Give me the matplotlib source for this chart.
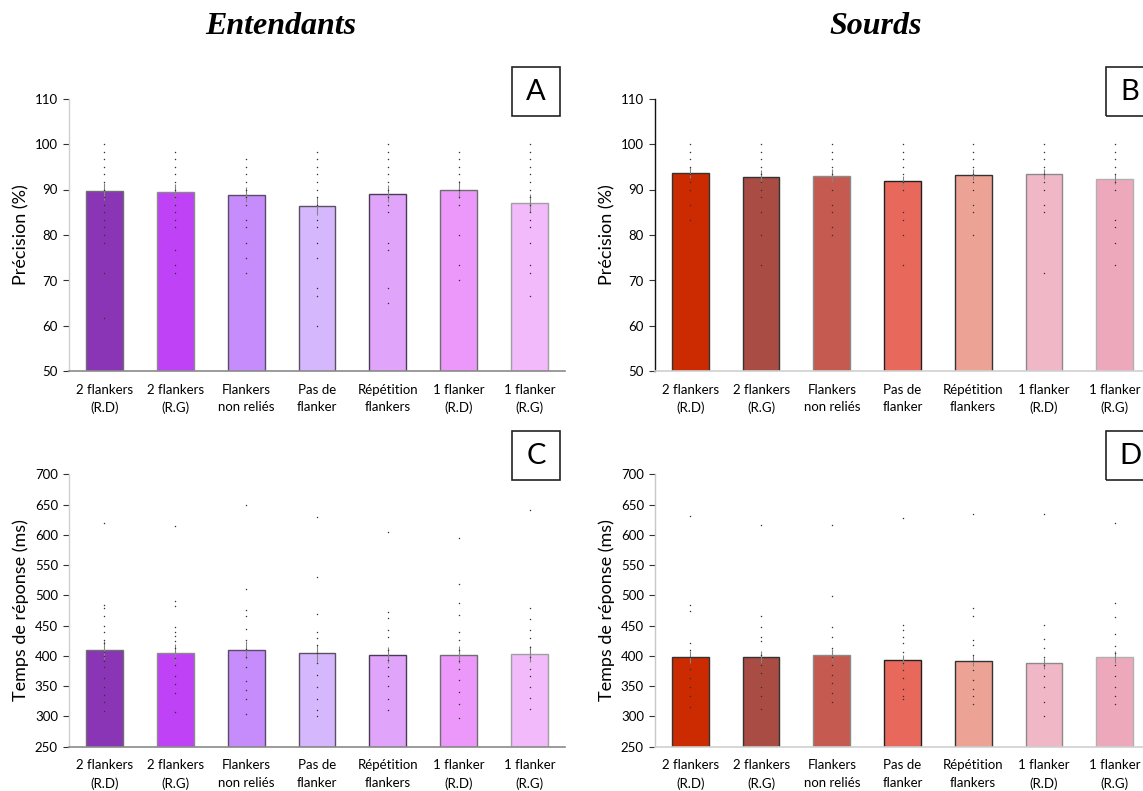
import matplotlib
matplotlib.use("Agg")
import matplotlib.pyplot as plt
from matplotlib.patches import Rectangle

plt.rcParams['font.family'] = ['Lato', 'DejaVu Sans']

W, H = 1143, 791

conditions = ["2 flankers\n(R.D)", "2 flankers\n(R.G)", "Flankers\nnon reliés",
              "Pas de\nflanker", "Répétition\nflankers", "1 flanker\n(R.D)", "1 flanker\n(R.G)"]

# couleurs des conditions
violets = ['#8a35b5', '#bf42f6', '#c78cfb', '#d5b7fd', '#e0a4fa', '#eb98fa', '#f2b9fb']
rouges = ['#cc2a00', '#a94c44', '#c55a50', '#e8695b', '#eca395', '#f0b7c7', '#eda9bb']

# Précision (%) - entendants
prec_ent = [89.6, 89.4, 88.9, 86.3, 89.1, 90.0, 87.0]
prec_ent_se = [1.9, 1.7, 1.7, 2.0, 1.8, 1.8, 2.0]
prec_ent_pts = [
    [100, 98.3, 96.7, 95, 93.3, 91.7, 90, 88.3, 86.7, 85, 83.3, 81.7, 80, 78.3, 71.7, 61.7],
    [98.3, 96.7, 95, 93.3, 91.7, 90, 88.3, 86.7, 85, 83.3, 81.7, 76.7, 73.3, 71.7],
    [96.7, 95, 93.3, 91.7, 90, 88.3, 86.7, 83.3, 81.7, 78.3, 75, 71.7],
    [98.3, 96.7, 95, 93.3, 91.7, 90, 88.3, 86.7, 83.3, 81.7, 78.3, 75, 68.3, 66.7, 60],
    [100, 98.3, 96.7, 95, 93.3, 91.7, 90, 88.3, 86.7, 85, 78.3, 76.7, 68.3, 65],
    [98.3, 96.7, 95, 93.3, 91.7, 90, 88.3, 86.7, 80, 73.3, 70],
    [100, 98.3, 96.7, 95, 93.3, 91.7, 90, 88.3, 86.7, 85, 83.3, 81.7, 78.3, 73.3, 71.7, 66.7],
]

# Précision (%) - sourds
prec_sou = [93.7, 92.8, 93.0, 91.9, 93.2, 93.5, 92.3]
prec_sou_se = [1.2, 1.4, 1.4, 1.1, 1.2, 1.1, 1.2]
prec_sou_pts = [
    [100, 98.3, 96.7, 95, 93.3, 91.7, 90, 86.7, 83.3],
    [100, 98.3, 96.7, 95, 93.3, 91.7, 90, 88.3, 85, 80, 73.3],
    [100, 98.3, 96.7, 95, 93.3, 90, 86.7, 85, 81.7, 80],
    [100, 98.3, 96.7, 95, 93.3, 91.7, 90, 85, 83.3, 80, 73.3],
    [100, 98.3, 96.7, 95, 93.3, 91.7, 90, 86.7, 85, 80],
    [100, 98.3, 96.7, 95, 93.3, 91.7, 90, 86.7, 85, 71.7],
    [100, 98.3, 96.7, 95, 93.3, 91.7, 90, 83.3, 81.7, 78.3, 73.3],
]

# Temps de réponse (ms) - entendants
tr_ent = [410, 405, 410, 404, 402, 402, 403]
tr_ent_se = [15, 14, 15, 14, 13, 14, 13]
tr_ent_pts = [
    [620, 484, 479, 466, 450, 440, 426, 421, 407, 400, 392, 382, 364, 349, 335, 324, 309],
    [614, 491, 483, 448, 440, 433, 424, 413, 397, 385, 366, 353, 338, 307],
    [649, 510, 476, 466, 445, 426, 412, 399, 381, 359, 344, 328, 304],
    [630, 531, 469, 440, 429, 418, 404, 389, 369, 348, 328, 311, 300],
    [605, 473, 462, 443, 431, 410, 393, 382, 367, 350, 328, 311],
    [594, 519, 487, 468, 440, 426, 410, 392, 378, 360, 341, 321, 297],
    [641, 479, 461, 443, 429, 414, 399, 379, 366, 348, 330, 313],
]

# Temps de réponse (ms) - sourds
tr_sou = [398, 398, 402, 393, 392, 388, 398]
tr_sou_se = [10, 10, 10, 9, 9, 9, 10]
tr_sou_pts = [
    [631, 484, 475, 421, 410, 399, 379, 363, 349, 333, 315],
    [616, 466, 448, 432, 424, 402, 385, 371, 349, 333, 312],
    [616, 499, 448, 432, 413, 399, 385, 368, 355, 338, 324],
    [627, 451, 443, 432, 421, 407, 388, 377, 363, 346, 333, 328],
    [634, 479, 466, 426, 418, 402, 391, 377, 360, 346, 333, 321],
    [635, 451, 428, 413, 399, 385, 366, 349, 324, 300],
    [620, 488, 465, 436, 416, 404, 385, 366, 349, 333, 321],
]

fig = plt.figure(figsize=(W / 100, H / 100), dpi=100)


def axes_px(x0, x1, ytop, ybot):
    return fig.add_axes([x0 / W, 1 - ybot / H, (x1 - x0) / W, (ybot - ytop) / H])


def panel(ax, means, se, pts, colors, edges, ylim, yticks, ylabel, left_col, bottom_col):
    x = list(range(len(means)))
    ax.bar(x, [m - ylim[0] for m in means], bottom=ylim[0], width=0.52,
           color=colors, edgecolor=edges, linewidth=1.0, zorder=2)
    ax.errorbar(x, means, yerr=se, fmt='none', ecolor='#858585', elinewidth=0.8,
                capsize=0, zorder=3)
    for i, vals in enumerate(pts):
        ax.scatter([i] * len(vals), vals, s=1.1, color='#333333', marker='o',
                   linewidths=0, zorder=4)
    ax.set_xlim(-0.5, len(means) - 0.5)
    ax.set_ylim(*ylim)
    ax.set_yticks(yticks)
    ax.set_xticks(x)
    ax.set_xticklabels(conditions, fontsize=9.5, linespacing=1.55)
    ax.tick_params(axis='x', length=0, pad=9)
    ax.tick_params(axis='y', labelsize=9.5, length=4, width=0.8, color='#333333', pad=4)
    ax.set_ylabel(ylabel, fontsize=13, labelpad=4)
    for s in ['top', 'right']:
        ax.spines[s].set_visible(False)
    ax.spines['left'].set_color(left_col)
    ax.spines['bottom'].set_color(bottom_col)
    ax.spines['left'].set_linewidth(1.0)
    ax.spines['bottom'].set_linewidth(1.2)
    ax.set_facecolor('none')


def lettre(txt, x0, y0, w=48, h=49):
    fig.patches.append(Rectangle((x0 / W, 1 - (y0 + h) / H), w / W, h / H,
                                 transform=fig.transFigure, fill=False,
                                 edgecolor='#222222', linewidth=1.2))
    fig.text((x0 + w / 2) / W, 1 - (y0 + h / 2) / H, txt, fontsize=21,
             ha='center', va='center')


edges_a = ['#6e6e6e', '#8a8a8a', '#5a4a66', '#5a5060', '#4a3a55', '#6e6e6e', '#a0a0a0']
edges_b = ['#333333', '#333333', '#8a8a8a', '#222222', '#333333', '#8a8a8a', '#b0b0b0']

ax_a = axes_px(69, 565, 98.5, 371.5)
panel(ax_a, prec_ent, prec_ent_se, prec_ent_pts, violets, edges_a, (50, 110),
      range(50, 111, 10), "Précision (%)", '#d0d0d0', '#8a8a8a')

ax_b = axes_px(655, 1150, 98.5, 371.5)
panel(ax_b, prec_sou, prec_sou_se, prec_sou_pts, rouges, edges_b, (50, 110),
      range(50, 111, 10), "Précision (%)", '#111111', '#d0d0d0')

ax_c = axes_px(69, 565, 474.3, 746.7)
panel(ax_c, tr_ent, tr_ent_se, tr_ent_pts, violets, edges_a, (250, 700),
      range(250, 701, 50), "Temps de réponse (ms)", '#d0d0d0', '#8a8a8a')

ax_d = axes_px(655, 1150, 474.3, 746.7)
panel(ax_d, tr_sou, tr_sou_se, tr_sou_pts, rouges, edges_b, (250, 700),
      range(250, 701, 50), "Temps de réponse (ms)", '#c8c8c8', '#d0d0d0')

lettre("A", 512, 67)
lettre("B", 1106, 67)
lettre("C", 512, 431)
lettre("D", 1106, 431)

titre = dict(fontsize=23, fontweight='bold', fontstyle='italic',
             family=['Liberation Serif', 'DejaVu Serif'], ha='center', va='center')
fig.text(281 / W, 1 - 27 / H, "Entendants", **titre)
fig.text(876 / W, 1 - 27 / H, "Sourds", **titre)

fig.savefig("out.png", dpi=100)
